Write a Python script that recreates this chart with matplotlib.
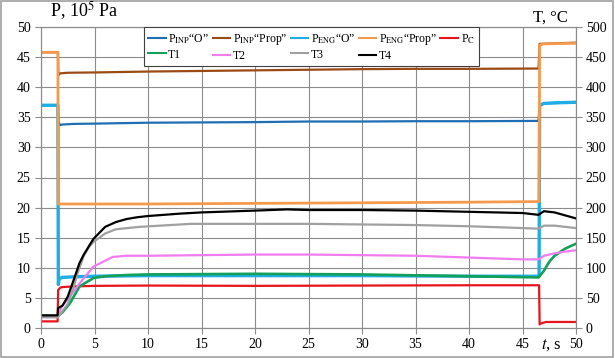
import matplotlib
matplotlib.use("Agg")
import matplotlib.pyplot as plt
from matplotlib.patches import Rectangle

plt.rcParams['font.family'] = ['Liberation Serif', 'DejaVu Serif']
plt.rcParams['mathtext.fontset'] = 'stix'

# ---------------- data (pressure, 10^5 Pa) ----------------
t_pinp_o = [0, 1.58, 1.62, 1.75, 2.0, 3, 5, 10, 15, 20, 25, 30, 35, 40, 46.5, 46.6, 47, 50]
p_inp_o = [37.0, 37.0, 34.5, 33.7, 33.8, 33.9, 33.95, 34.1, 34.15, 34.2, 34.3, 34.3, 34.35, 34.35, 34.4, 37.0, 37.3, 37.5]

t_pinp_p = [0, 1.58, 1.62, 1.8, 2.5, 5, 10, 15, 20, 25, 30, 35, 40, 46.5, 46.6, 50]
p_inp_p = [45.8, 45.8, 42.0, 42.3, 42.4, 42.45, 42.6, 42.7, 42.8, 42.9, 43.0, 43.05, 43.05, 43.1, 47.2, 47.4]

t_peng_o = [0, 1.58, 1.62, 1.7, 2.0, 3, 5, 10, 20, 30, 40, 46.55, 46.6, 47, 48, 50]
p_peng_o = [37.0, 37.0, 7.2, 8.2, 8.4, 8.5, 8.6, 8.7, 8.7, 8.7, 8.6, 8.6, 37.0, 37.3, 37.4, 37.5]

t_peng_p = [0, 1.58, 1.6, 1.7, 5, 10, 20, 30, 40, 46.55, 46.6, 47, 50]
p_peng_p = [45.8, 45.8, 20.6, 20.6, 20.6, 20.6, 20.7, 20.8, 20.9, 21.0, 47.0, 47.2, 47.3]

t_pc = [0, 1.55, 1.6, 1.8, 2.0, 3, 5, 10, 20, 30, 40, 46.55, 46.6, 46.8, 47.2, 50]
p_pc = [1.1, 1.1, 6.3, 6.7, 6.8, 6.9, 7.0, 7.05, 7.0, 7.05, 7.1, 7.1, 0.6, 0.8, 1.0, 1.0]

# ---------------- data (temperature, °C) ----------------
t_t1 = [0, 1.6, 2.0, 2.7, 3.6, 4.9, 6, 8, 10, 20, 30, 40, 46.5, 47, 47.5, 48, 49, 50]
T1 = [20, 20, 26, 41, 69, 83, 86, 88, 89, 90, 89, 86, 84, 95, 110, 120, 132, 140]

t_t2 = [0, 1.6, 1.9, 2.7, 3.6, 4.9, 6.7, 8, 10, 15, 20, 25, 30, 35, 40, 45, 46.5, 47, 48, 49, 50]
T2 = [18, 18, 35, 52, 74, 102, 118, 120, 120, 121, 122, 122, 121, 120, 117, 114, 114, 120, 124, 127, 129]

t_t3 = [0, 1.6, 2.0, 2.5, 3, 3.5, 4, 4.5, 4.9, 6, 7, 9.2, 14, 20, 25, 30, 35, 40, 45, 46.5, 47, 48, 50]
T3 = [18, 18, 28, 40, 65, 95, 120, 135, 143, 157, 164, 168, 173, 173, 173, 172, 171, 169, 166, 165, 170, 170, 166]

t_t4 = [0, 1.55, 1.6, 2.0, 2.5, 3.0, 3.6, 4.0, 4.9, 6, 7, 8, 9, 10, 13, 15, 20, 23, 25, 30, 35, 40, 45, 46.5, 47, 48, 49, 50]
T4 = [21, 21, 33, 37, 52, 77, 108, 122, 148, 168, 176, 181, 184, 186, 190, 192, 195, 197, 196, 196, 195, 193, 191, 188, 194, 192, 187, 182]

x_ticks = list(range(0, 51, 5))
p_ticks = list(range(0, 51, 5))
t_ticks = list(range(0, 501, 50))

c_pinp_o = '#1F6EB4'
c_pinp_p = '#9C4A14'
c_peng_o = '#1EADE4'
c_peng_p = '#F59A4C'
c_pc = '#E8141B'
c_t1 = '#12A05A'
c_t2 = '#F07CF0'
c_t3 = '#A0A0A0'
c_t4 = '#000000'

fig = plt.figure(figsize=(6.15, 3.58), dpi=100)
ax = fig.add_axes([41/615, 1-328/358, 535/615, 301/358])
ax2 = ax.twinx()

grid_c = '#8C8C8C'
ax.set_xlim(0, 50)
ax.set_ylim(0, 50)
ax2.set_ylim(0, 500)
ax.set_xticks(x_ticks)
ax.set_yticks(p_ticks)
ax2.set_yticks(t_ticks)
ax.grid(True, color=grid_c, lw=0.8)
ax.set_axisbelow(True)
for a in (ax, ax2):
    for s in a.spines.values():
        s.set_color(grid_c)
        s.set_linewidth(0.8)
    a.tick_params(colors='black', labelsize=10, length=4, width=0.8, color=grid_c)
ax.tick_params(axis='x', pad=3)
ax2.tick_params(axis='y', pad=3)

h1, = ax.plot(t_pinp_o, p_inp_o, color=c_pinp_o, lw=1.6)
h2, = ax.plot(t_pinp_p, p_inp_p, color=c_pinp_p, lw=1.6)
h3, = ax.plot(t_peng_o, p_peng_o, color=c_peng_o, lw=2.4)
h4, = ax.plot(t_peng_p, p_peng_p, color=c_peng_p, lw=2.0)
h5, = ax.plot(t_pc, p_pc, color=c_pc, lw=1.6)
h6, = ax2.plot(t_t1, T1, color=c_t1, lw=1.9)
h7, = ax2.plot(t_t2, T2, color=c_t2, lw=1.6)
h8, = ax2.plot(t_t3, T3, color=c_t3, lw=1.6)
h9, = ax2.plot(t_t4, T4, color=c_t4, lw=1.6)

labels = [r'P$_{\rm INP}$“O”', r'P$_{\rm INP}$“Prop”', r'P$_{\rm ENG}$“O”',
          r'P$_{\rm ENG}$“Prop”', r'P$_{\rm C}$', 'T1', 'T2', 'T3', 'T4']
hs = [h1, h2, h3, h4, h5, h6, h7, h8, h9]
order = [0, 5, 1, 6, 2, 7, 3, 8, 4]
leg = ax2.legend([hs[i] for i in order], [labels[i] for i in order], ncol=5,
                 loc='upper left', bbox_to_anchor=((144-41)/535, 1.0),
                 fontsize=8.5, frameon=True, fancybox=False, framealpha=1,
                 edgecolor='#404040', handlelength=1.5, handletextpad=0.2,
                 columnspacing=0.3, borderpad=0.35, labelspacing=0.25, borderaxespad=0)
leg.get_frame().set_linewidth(0.8)
for line in leg.get_lines():
    line.set_linewidth(1.5)

fig.text(50/615, 1-17/358, r'P, 10$^5$ Pa', fontsize=13, ha='left', va='baseline')
fig.text(568/615, 1-22/358, 'T, °C', fontsize=12, ha='right', va='baseline')
fig.text(551/615, 1-349/358, r'$\it{t}$, s', fontsize=12, ha='center', va='baseline')

fig.patches.append(Rectangle((0.002, 0.003), 0.995, 0.993, transform=fig.transFigure,
                             fill=False, edgecolor='#A0A0A0', lw=1.2))

fig.savefig('out.png', dpi=100)
